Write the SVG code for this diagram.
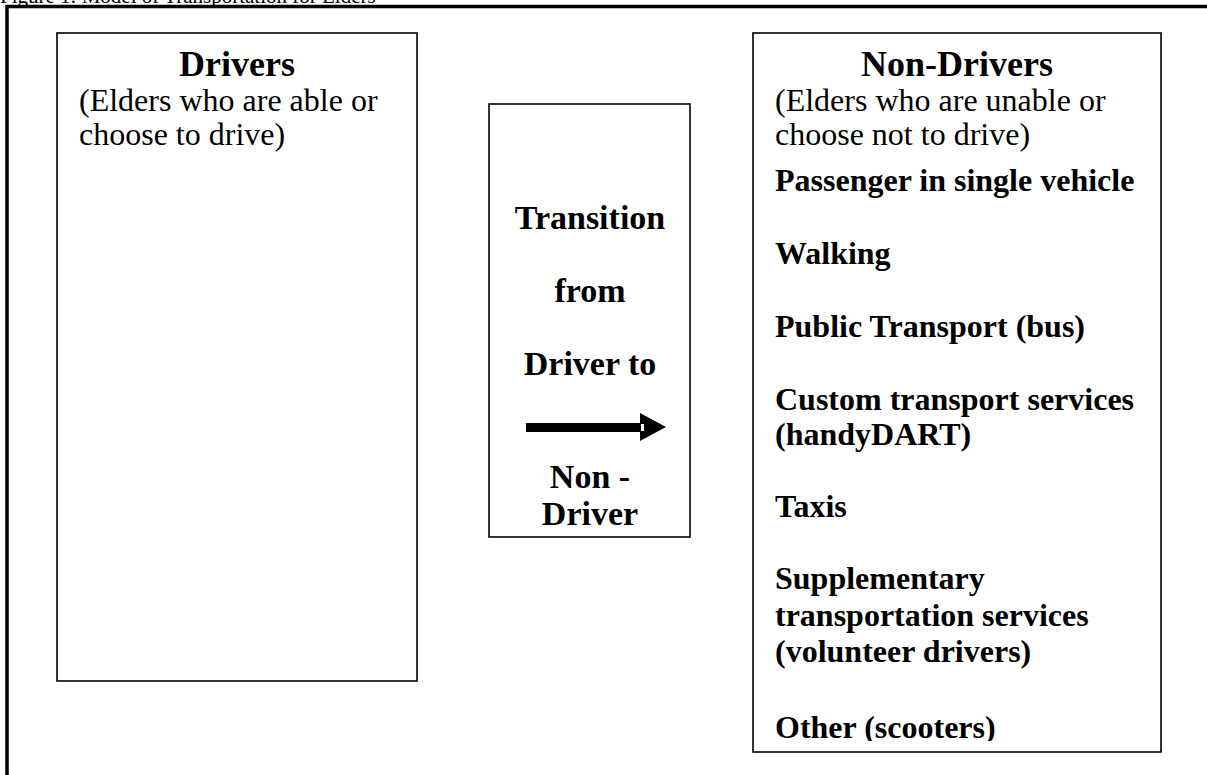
<svg xmlns="http://www.w3.org/2000/svg" width="1207" height="775" viewBox="0 0 1207 775">
<style>
text{font-family:"Liberation Serif","Times New Roman",serif;fill:#000}
.h{font-size:36px;font-weight:bold}
.r{font-size:32px}
.i{font-size:32px;font-weight:bold}
.t{font-size:34px;font-weight:bold}
.box{fill:#fff;stroke:#000;stroke-width:1.6}
</style>
<defs>
<clipPath id="clipND"><rect x="754" y="34" width="406" height="707"/></clipPath>
</defs>
<rect width="1207" height="775" fill="#fff"/>
<text x="0" y="3" style="font-size:21px">Figure 1: Model of Transportation for Elders</text>
<path d="M7,775 V6.5 H1207" fill="none" stroke="#000" stroke-width="3.5"/>
<g id="drivers">
<rect class="box" x="57" y="33" width="360" height="648"/>
<text class="h" x="237" y="76" text-anchor="middle">Drivers</text>
<text class="r" x="79" y="111">(Elders who are able or</text>
<text class="r" x="79" y="145">choose to drive)</text>
</g>
<g id="transition">
<rect class="box" x="489" y="104" width="201" height="433"/>
<text class="t" x="590" y="229" text-anchor="middle">Transition</text>
<text class="t" x="590" y="302" text-anchor="middle">from</text>
<text class="t" x="590" y="375" text-anchor="middle">Driver to</text>
<text class="t" x="590" y="488" text-anchor="middle">Non -</text>
<text class="t" x="590" y="525" text-anchor="middle">Driver</text>
</g>
<g id="nondrivers">
<rect class="box" x="753" y="33" width="408" height="719"/>
<text class="h" x="957" y="76" text-anchor="middle">Non-Drivers</text>
<text class="r" x="775" y="111">(Elders who are unable or</text>
<text class="r" x="775" y="145">choose not to drive)</text>
<g clip-path="url(#clipND)">
<text class="i" x="775" y="191">Passenger in single vehicle</text>
<text class="i" x="775" y="264">Walking</text>
<text class="i" x="775" y="337">Public Transport (bus)</text>
<text class="i" x="775" y="410">Custom transport services</text>
<text class="i" x="775" y="445">(handyDART)</text>
<text class="i" x="775" y="517">Taxis</text>
<text class="i" x="775" y="589">Supplementary</text>
<text class="i" x="775" y="626">transportation services</text>
<text class="i" x="775" y="662">(volunteer drivers)</text>
<text class="i" x="775" y="738">Other (scooters)</text>
</g>
</g>
<g id="connectors">
<rect x="526" y="423" width="115" height="9" fill="#000"/>
<polygon points="640,413 666,427 640,441" fill="#000"/>
<rect x="641" y="424" width="3" height="7" fill="#fff"/>
</g>
</svg>
